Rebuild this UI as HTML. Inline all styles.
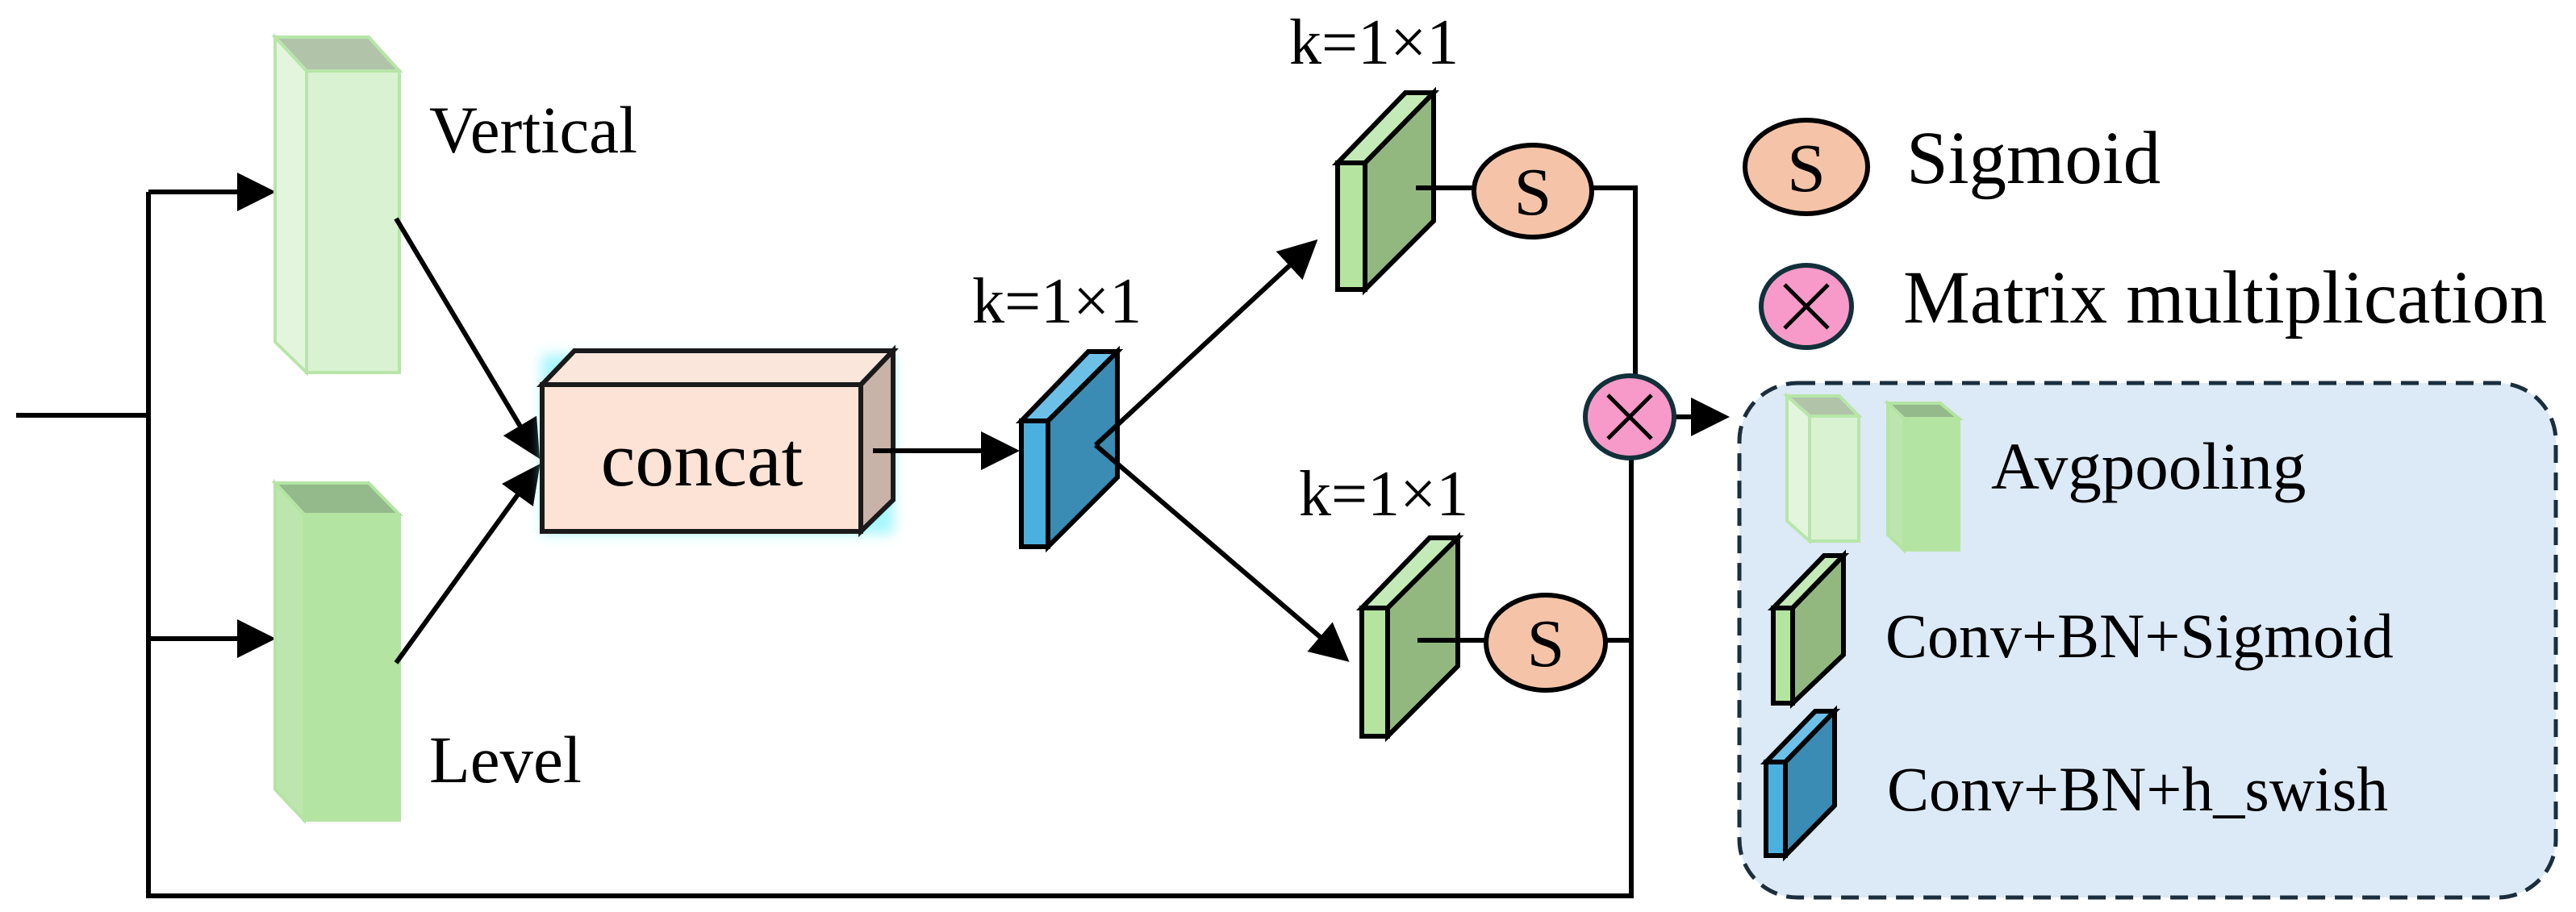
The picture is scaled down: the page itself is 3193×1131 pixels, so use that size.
<!DOCTYPE html>
<html><head><meta charset="utf-8"><style>
html,body{margin:0;padding:0;background:#fff;}
svg{display:block;}
text{font-family:"Liberation Serif","Times New Roman",serif;fill:#000;}
</style></head><body>
<svg width="3193" height="1131" viewBox="0 0 3193 1131" xmlns="http://www.w3.org/2000/svg" font-family="Liberation Serif, serif">
<defs>
<marker id="ah" markerWidth="8" markerHeight="8" refX="7" refY="4" orient="auto" markerUnits="strokeWidth">
<path d="M0,0 L8,4 L0,8 Z" fill="#000"/>
</marker>
<filter id="glow" x="-20%" y="-20%" width="140%" height="140%">
<feGaussianBlur stdDeviation="8"/>
</filter>
</defs>

<g stroke="#000" stroke-width="6" fill="none">
<line x1="20" y1="515" x2="184" y2="515"/>
<polyline points="184,238 184,1111 2022,1111 2022,570"/>
<line x1="184" y1="238" x2="336" y2="238" marker-end="url(#ah)"/>
<line x1="184" y1="792" x2="336" y2="792" marker-end="url(#ah)"/>
</g>

<g stroke="#b7e6a8" stroke-width="4" stroke-linejoin="miter">
<polygon points="341,46 457,46 495,88 380,88" fill="#b1c4aa"/>
<polygon points="341,46 380,88 380,462 341,424" fill="#e4f5de"/>
<rect x="380" y="88" width="115" height="374" fill="#d9f2d1"/>
</g>
<g stroke="#b4e4a2" stroke-width="4">
<polygon points="341,599 457,599 495,638 377,638" fill="#94b98a"/>
<polygon points="341,599 377,638 377,1017 341,979" fill="#bde6ae"/>
<rect x="377" y="638" width="118" height="379" fill="#b4e4a2"/>
</g>
<text x="532" y="189" font-size="83">Vertical</text>
<text x="532" y="970" font-size="83">Level</text>

<g stroke="#000" stroke-width="6">
<line x1="491" y1="271" x2="666" y2="564" marker-end="url(#ah)"/>
<line x1="491" y1="822" x2="666" y2="580" marker-end="url(#ah)"/>
</g>

<rect x="672" y="440" width="436" height="222" fill="#7ff2ff" filter="url(#glow)" opacity="0.7"/>
<g stroke="#1a1a1a" stroke-width="6" stroke-linejoin="miter">
<polygon points="672,477 712,435 1107,435 1067,477" fill="#fbe6dc"/>
<polygon points="1067,477 1107,435 1107,620 1067,659" fill="#c9b3a8"/>
<rect x="672" y="477" width="395" height="182" fill="#fce3d6"/>
</g>
<text x="870" y="602" font-size="96" text-anchor="middle">concat</text>
<line x1="1082" y1="559" x2="1258" y2="559" stroke="#000" stroke-width="6" marker-end="url(#ah)"/>

<g stroke="#000" stroke-width="6" stroke-linejoin="miter">
<polygon points="1266,522 1349,436 1385,436 1299,522" fill="#6cc0e8"/>
<polygon points="1299,522 1385,436 1385,592 1299,678" fill="#3a8cb4"/>
<rect x="1266" y="522" width="33" height="156" fill="#4ab0e0"/>
</g>
<text x="1205" y="400" font-size="80">k=1×1</text>

<g stroke="#000" stroke-width="6">
<polygon points="1658,202 1742,115 1777,115 1692,202" fill="#c4eab8"/>
<polygon points="1692,202 1777,115 1777,274 1692,359" fill="#92b880"/>
<rect x="1658" y="202" width="34" height="157" fill="#b4e4a0"/>
</g>
<text x="1598" y="79" font-size="80">k=1×1</text>
<g stroke="#000" stroke-width="6">
<polygon points="1688,754 1772,667 1807,667 1720,754" fill="#c4eab8"/>
<polygon points="1720,754 1807,667 1807,826 1720,913" fill="#92b880"/>
<rect x="1688" y="754" width="32" height="159" fill="#b4e4a0"/>
</g>
<text x="1610" y="639" font-size="80">k=1×1</text>

<g stroke="#000" stroke-width="6" fill="none">
<line x1="1358" y1="552" x2="1629" y2="301" marker-end="url(#ah)"/>
<line x1="1358" y1="552" x2="1668" y2="817" marker-end="url(#ah)"/>
<line x1="1755" y1="233" x2="1827" y2="233"/>
<polyline points="1974,233 2027,233 2027,465"/>
<line x1="1757" y1="794" x2="1842" y2="794"/>
<line x1="1991" y1="794" x2="2022" y2="794"/>
<line x1="2075" y1="517" x2="2138" y2="517" marker-end="url(#ah)"/>
</g>

<ellipse cx="1900" cy="237" rx="73" ry="57" fill="#f5c4a8" stroke="#000" stroke-width="6"/>
<text x="1900" y="266" font-size="84" text-anchor="middle">S</text>
<ellipse cx="1916" cy="797" rx="74" ry="59" fill="#f5c4a8" stroke="#000" stroke-width="6"/>
<text x="1916" y="826" font-size="84" text-anchor="middle">S</text>

<ellipse cx="2020" cy="517" rx="55" ry="51" fill="#f79ac9" stroke="#12303a" stroke-width="6"/>
<g stroke="#000" stroke-width="5"><line x1="1993" y1="490" x2="2047" y2="544"/><line x1="2047" y1="490" x2="1993" y2="544"/></g>

<ellipse cx="2239" cy="207" rx="76" ry="58" fill="#f5c4a8" stroke="#000" stroke-width="6"/>
<text x="2239" y="237" font-size="86" text-anchor="middle">S</text>
<text x="2363" y="227" font-size="93">Sigmoid</text>
<ellipse cx="2239" cy="380" rx="56" ry="51" fill="#f79ac9" stroke="#12303a" stroke-width="6"/>
<g stroke="#000" stroke-width="5"><line x1="2212" y1="353" x2="2266" y2="407"/><line x1="2266" y1="353" x2="2212" y2="407"/></g>
<text x="2359" y="400" font-size="93">Matrix multiplication</text>

<rect x="2156" y="475" width="1012" height="638" rx="72" ry="72" fill="#dce9f6" stroke="#1a2e3e" stroke-width="5" stroke-dasharray="22,12"/>
<g stroke="#b7e6a8" stroke-width="4">
<polygon points="2215,491 2280,491 2304,516 2243,516" fill="#b1c4aa"/>
<polygon points="2215,491 2243,516 2243,671 2215,646" fill="#e4f5de"/>
<rect x="2243" y="516" width="61" height="155" fill="#d9f2d1"/>
</g>
<g stroke="#b4e4a2" stroke-width="4">
<polygon points="2340,500 2405,500 2428,519 2360,519" fill="#94b98a"/>
<polygon points="2340,500 2360,519 2360,682 2340,663" fill="#bde6ae"/>
<rect x="2360" y="519" width="68" height="163" fill="#b4e4a2"/>
</g>
<text x="2468" y="606" font-size="83">Avgpooling</text>

<g stroke="#000" stroke-width="6">
<polygon points="2198,754 2261,689 2285,689 2222,754" fill="#c4eab8"/>
<polygon points="2222,754 2285,689 2285,812 2222,872" fill="#92b880"/>
<rect x="2198" y="754" width="24" height="118" fill="#b4e4a0"/>
</g>
<text x="2337" y="815" font-size="78">Conv+BN+Sigmoid</text>
<g stroke="#000" stroke-width="6">
<polygon points="2189,945 2250,882 2274,882 2213,945" fill="#6cc0e8"/>
<polygon points="2213,945 2274,882 2274,999 2213,1061" fill="#3a8cb4"/>
<rect x="2189" y="945" width="24" height="116" fill="#4ab0e0"/>
</g>
<text x="2339" y="1005" font-size="78">Conv+BN+h_swish</text>
</svg>
</body></html>
